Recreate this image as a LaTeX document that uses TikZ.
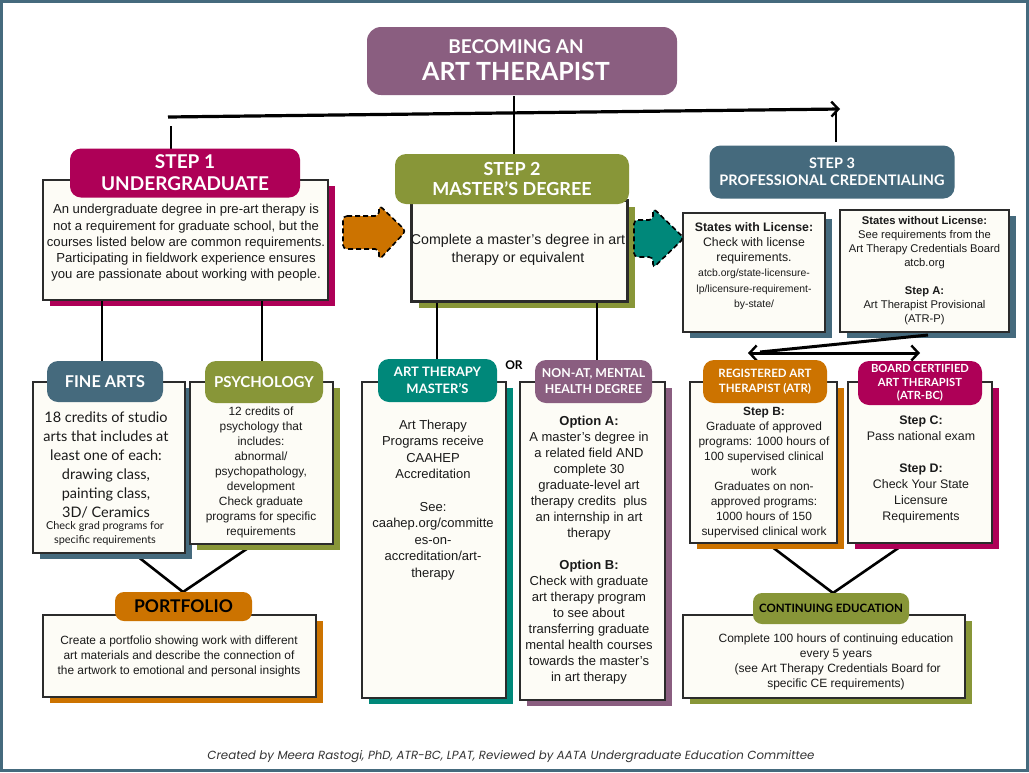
\documentclass[tikz,border=0pt]{standalone}
\usepackage{fontspec}
\setmainfont{Liberation Sans}
\newfontfamily\headfont{Lato}
\newfontfamily\handfont{Lato}
\newfontfamily\footfont{Poppins}
\usetikzlibrary{shadows,arrows.meta}
\definecolor{frameblue}{HTML}{456A7D}
\definecolor{titlepurple}{HTML}{8A5E80}
\definecolor{magentac}{HTML}{AE0057}
\definecolor{olivec}{HTML}{889638}
\definecolor{slatec}{HTML}{456A7D}
\definecolor{orangec}{HTML}{CC7300}
\definecolor{tealc}{HTML}{00887A}
\definecolor{purplec}{HTML}{8A5E80}
\definecolor{cardfill}{HTML}{FDFCF6}
\definecolor{cardline}{HTML}{2B2B2B}
\definecolor{textdark}{HTML}{1A1A1A}
\definecolor{footgray}{HTML}{333333}
\newcommand{\fsz}[2]{\fontsize{#1}{#2}\selectfont}
\begin{document}
\begin{tikzpicture}[x=1pt,y=-1pt,
  card/.style={draw=cardline, line width=2.6pt, fill=cardfill, inner sep=0pt,
    general shadow={fill=#1, shadow xshift=7pt, shadow yshift=-6pt}},
  head/.style={fill=#1, rounded corners=11pt, inner sep=0pt, text=white, align=center},
  link/.style={draw=black, line width=2.6pt},
  body/.style={align=center, text=textdark, inner sep=0pt},
  barb/.tip={Straight Barb[length=7pt,width=15pt,line width=2.4pt]},
]
\useasboundingbox (0,0) rectangle (1029,772);
\fill[white] (0,0) rectangle (1029,772);
\draw[frameblue, line width=3pt] (1.5,1.5) rectangle (1027.5,770.5);

% ---------- title ----------
\node[head=titlepurple, rounded corners=14pt, minimum width=310pt, minimum height=68pt] (title) at (522,61) {};
\node[text=white, inner sep=0pt, font=\headfont\bfseries\fsz{19}{22}] (title1) at (516,47) {BECOMING AN};
\node[text=white, inner sep=0pt, font=\headfont\bfseries\fsz{25}{28}] (title2) at (516,71) {ART THERAPIST};

% ---------- connectors (behind boxes) ----------
\coordinate (arrL) at (168,117);
\coordinate (arrR) at (840,109);
\coordinate (t0) at (514,96);
\coordinate (a1) at (171,126);
\coordinate (a3) at (836,111);
\coordinate (fa2) at (123,545);
\coordinate (ps2) at (260,540);
\coordinate (atr2) at (763,540);
\coordinate (bc2) at (910,540);
\coordinate (fork) at (928,335);
\coordinate (lt) at (748,353);
\coordinate (lt2) at (760,352);
\coordinate (rt) at (920,353);

% ---------- step 1 ----------
\node[card=magentac, minimum width=285pt, minimum height=120pt] (s1) at (185.5,240) {};
% ---------- step 2 ----------
\node[card=olivec, minimum width=216pt, minimum height=101pt] (s2) at (519.5,251) {};
% ---------- step 3 boxes ----------
\node[card=slatec, minimum width=142pt, minimum height=119pt] (lic) at (754,272.5) {};
\node[card=slatec, minimum width=169pt, minimum height=122pt] (nolic) at (924.5,271) {};

\draw[link, line width=2pt] (t0) -- (t0 |- 0,155);
\draw[link, line width=3.2pt, -barb] (arrL) -- (arrR);
\draw[link, line width=2pt] (a1) -- (a1 |- 0,150);
\draw[link, line width=2pt] (a3) -- (a3 |- 0,142);

% headers of steps
\node[head=magentac, minimum width=230pt, minimum height=49pt, font=\headfont\bfseries\fsz{19}{22}] (s1h) at (185,173) {STEP 1\\UNDERGRADUATE};
\node[head=olivec, minimum width=234pt, minimum height=50pt, font=\headfont\bfseries\fsz{18}{20}] (s2h) at (512,179) {STEP 2\\MASTER’S DEGREE};
\node[head=slatec, minimum width=245pt, minimum height=53pt, font=\headfont\bfseries\fsz{14.5}{17}] (s3h) at (832,172) {STEP 3\\PROFESSIONAL CREDENTIALING};

\node[body, font=\fsz{13.1}{16.3}] (s1t) at (186,243) {An undergraduate degree in pre-art therapy is\\not a requirement for graduate school, but the\\courses listed below are common requirements.\\Participating in fieldwork experience ensures\\you are passionate about working with people.};
\node[body, font=\fsz{14.2}{18.5}] (s2t) at (518,250) {Complete a master’s degree in art\\therapy or equivalent};
\node[body, font=\fsz{12.3}{15.2}] (lict) at (754,266) {\textbf{States with License:}\\Check with license\\requirements.\\{\fsz{10.4}{15.2}atcb.org/state-licensure-}\\{\fsz{10.4}{15.2}lp/licensure-requirement-}\\{\fsz{10.4}{15.2}by-state/}};
\node[body, font=\fsz{11.2}{14.1}] (nolict) at (924.5,270.5) {\textbf{States without License:}\\See requirements from the\\Art Therapy Credentials Board\\atcb.org\\[14.1pt]\textbf{Step A:}\\Art Therapist Provisional\\(ATR-P)};

% block arrows
\draw[fill=orangec, line width=1.6pt, dash pattern=on 5pt off 3pt, rounded corners=4pt]
  (343,216) -- (379,216) -- (379,205) -- (406,231) -- (379,260) -- (379,249) -- (343,249) -- cycle;
\draw[fill=tealc, line width=1.6pt, dash pattern=on 5pt off 3pt, rounded corners=4pt]
  (634,220) -- (653,220) -- (653,208) -- (684,238) -- (653,268) -- (653,257) -- (634,257) -- cycle;

% double arrow step 3
\draw[link, line width=3pt, barb-barb] (lt) -- (rt);
\draw[link, line width=3pt] (fork) -- (lt2);

% ---------- level 2 connectors ----------
\draw[link] (s1.south -| 102,0) -- (102,362);
\draw[link] (s1.south -| 262,0) -- (262,362);
\draw[link] (s2.south -| 437,0) -- (437,360);
\draw[link] (s2.south -| 597,0) -- (597,360);
\coordinate (pftop) at (183,592);
\coordinate (cetop) at (833,593);
\draw[link] (fa2) -- (pftop) -- (ps2);
\draw[link] (atr2) -- (cetop) -- (bc2);

% ---------- fine arts ----------
\node[card=slatec, minimum width=152pt, minimum height=171pt] (fa) at (109,467.5) {};
\node[head=slatec, minimum width=116pt, minimum height=41pt, font=\headfont\bfseries\fsz{16.3}{18}] (fah) at (105,381.5) {FINE ARTS};
\node[body, font=\handfont\fsz{14.5}{19}] (fat1) at (106,464.5) {18 credits of studio\\arts that includes at\\least one of each:\\drawing class,\\painting class,\\3D/ Ceramics};
\node[body, font=\handfont\fsz{10.9}{14}] (fat2) at (105,533) {Check grad programs for\\specific requirements};

% ---------- psychology ----------
\node[card=olivec, minimum width=143pt, minimum height=162pt] (ps) at (261.5,463) {};
\node[head=olivec, minimum width=118pt, minimum height=42pt, font=\headfont\bfseries\fsz{15}{18}] (psh) at (264,382) {PSYCHOLOGY};
\node[body, font=\fsz{11.9}{15}] (pst) at (261,472) {12 credits of\\psychology that\\includes:\\abnormal/\\psychopathology,\\development\\Check graduate\\programs for specific\\requirements};

% ---------- portfolio ----------
\node[card=orangec, minimum width=273pt, minimum height=82pt] (pf) at (179.5,656) {};
\node[head=orangec, text=black, rounded corners=9pt, minimum width=137pt, minimum height=29pt, font=\headfont\bfseries\fsz{17.5}{20}] (pfh) at (183.5,606.5) {PORTFOLIO};
\node[body, font=\fsz{11.9}{15}] (pft) at (179,656) {Create a portfolio showing work with different\\art materials and describe the connection of\\the artwork to emotional and personal insights};

% ---------- art therapy master's ----------
\node[card=tealc, minimum width=144pt, minimum height=316pt] (atm) at (434,540) {};
\node[head=tealc, minimum width=119pt, minimum height=43pt, font=\headfont\bfseries\fsz{13}{16.5}] (ath) at (437.5,380.5) {ART THERAPY\\MASTER’S};
\node[body, font=\fsz{13}{16.4}] (atmt) at (433,500) {Art Therapy\\Programs receive\\CAAHEP\\Accreditation\\[16.4pt]See:\\caahep.org/committe\\es-on-\\accreditation/art-\\therapy};

\node[inner sep=0pt, font=\headfont\bfseries\fsz{12}{14}, text=black] (or) at (514,365) {OR};

% ---------- non-AT ----------
\node[card=purplec, minimum width=145pt, minimum height=318pt] (na) at (592.5,541) {};
\node[head=purplec, minimum width=117pt, minimum height=43pt, font=\headfont\bfseries\fsz{12.3}{16}] (nah) at (593.5,381.5) {NON-AT, MENTAL\\HEALTH DEGREE};
\node[body, font=\fsz{13}{16}] (nat) at (589,550) {\textbf{Option A:}\\A master’s degree in\\a related field AND\\complete 30\\graduate-level art\\therapy credits\ \ plus\\an internship in art\\therapy\\[16pt]\textbf{Option B:}\\Check with graduate\\art therapy program\\to see about\\transferring graduate\\mental health courses\\towards the master’s\\in art therapy};

% ---------- ATR ----------
\node[card=orangec, minimum width=147pt, minimum height=161pt] (atr) at (763.5,462.5) {};
\node[head=orangec, minimum width=124pt, minimum height=43pt, font=\headfont\bfseries\fsz{11.5}{15.5}] (atrh) at (765,381.5) {REGISTERED ART\\THERAPIST (ATR)};
\node[body, font=\fsz{11.9}{15}] (atrt) at (764,473) {\textbf{Step B:}\\Graduate of approved\\programs: 1000 hours of\\100 supervised clinical\\work\\Graduates on non-\\approved programs:\\1000 hours of 150\\supervised clinical work};

% ---------- ATR-BC ----------
\node[card=magentac, minimum width=144pt, minimum height=161pt] (bc) at (920,462.5) {};
\node[head=magentac, minimum width=124pt, minimum height=44pt, font=\headfont\bfseries\fsz{11.2}{13.5}] (bch) at (920,383) {BOARD CERTIFIED\\ART THERAPIST\\(ATR-BC)};
\node[body, font=\fsz{12.4}{16}] (bct) at (921,469.5) {\textbf{Step C:}\\Pass national exam\\[16pt]\textbf{Step D:}\\Check Your State\\Licensure\\Requirements};

% ---------- continuing education ----------
\node[card=olivec, minimum width=282pt, minimum height=83pt] (ce) at (824,656.5) {};
\node[head=olivec, text=black, rounded corners=9pt, minimum width=156pt, minimum height=31pt, font=\headfont\bfseries\fsz{11.5}{14}] (ceh) at (831,608.5) {CONTINUING EDUCATION};
\node[body, font=\fsz{12}{15}] (cet) at (836,661.5) {Complete 100 hours of continuing education\\every 5 years\\\ (see Art Therapy Credentials Board for\\specific CE requirements)};

% ---------- footer ----------
\node[inner sep=0pt, font=\footfont\itshape\fsz{11.8}{13}, text=footgray] (foot) at (511,757) {Created by Meera Rastogi, PhD, ATR-BC, LPAT, Reviewed by AATA Undergraduate Education Committee};
\end{tikzpicture}
\end{document}
